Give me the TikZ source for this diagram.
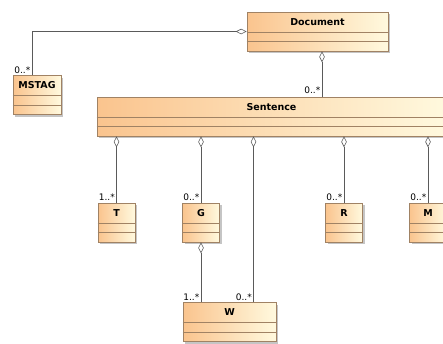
\documentclass[tikz,border=0pt]{standalone}
\usepackage{fontspec}
\setmainfont{DejaVu Sans}
\usetikzlibrary{arrows.meta,shadows,calc}
\definecolor{clsL}{RGB}{250,196,142}
\definecolor{clsR}{RGB}{255,249,222}
\definecolor{clsB}{RGB}{160,130,100}
\definecolor{conn}{RGB}{90,90,90}
\tikzset{
  cls/.style={rectangle, draw=clsB, line width=0.7pt, left color=clsL, right color=clsR,
    inner sep=0pt, minimum height=39pt,
    drop shadow={shadow xshift=2.2pt, shadow yshift=-2.2pt, fill=black!45, opacity=0.5}},
  cmp/.style={draw=clsB, line width=0.6pt},
  ttl/.style={font=\fontsize{9.5}{11}\selectfont\bfseries, inner sep=0pt},
  mult/.style={font=\fontsize{9}{10}\selectfont, inner sep=0.5pt, anchor=south east},
  agg/.style={draw=conn, line width=0.6pt, {Diamond[open,length=11pt,width=5.5pt]}-},
  lnk/.style={draw=conn, line width=0.6pt}
}
\newcommand\umlbox[5]{%
  \node[cls, minimum width=#4] (#1) at (#2,#3) {};
  \draw[cmp] ([yshift=-20.5pt]#1.north west) -- ([yshift=-20.5pt]#1.north east);
  \draw[cmp] ([yshift=-30pt]#1.north west) -- ([yshift=-30pt]#1.north east);
  \node[ttl] (#1-t) at ([yshift=-10pt]#1.north) {#5};
}
\begin{document}
\begin{tikzpicture}[x=1pt,y=-1pt]
\useasboundingbox (0,0) rectangle (443,343);
\umlbox{doc}{317.5}{31.5}{141pt}{Document}
\umlbox{mstag}{37}{95}{48pt}{MSTAG}
\umlbox{sent}{271.5}{116.5}{349pt}{Sentence}
\umlbox{t}{116.5}{222.5}{37pt}{T}
\umlbox{g}{201}{222.5}{37pt}{G}
\umlbox{r}{344}{222.5}{37pt}{R}
\umlbox{m}{428}{222.5}{37pt}{M}
\umlbox{w}{229.5}{322}{93pt}{W}
\coordinate (cA) at (322,0);
\coordinate (cB) at (253.5,0);
% connectors
\draw[agg] (doc.west) -| ([xshift=-5pt]mstag.north);
\draw[agg] (doc.south -| cA) -- (sent.north -| cA);
\draw[agg] (sent.south -| t.north) -- (t.north);
\draw[agg] (sent.south -| g.north) -- (g.north);
\draw[agg] (sent.south -| r.north) -- (r.north);
\draw[agg] (sent.south -| m.north) -- (m.north);
\draw[agg] (sent.south -| cB) -- (w.north -| cB);
\draw[agg] (g.south) -- (w.north -| g.south);
% multiplicities
\node[mult] (lm) at ([xshift=-6pt,yshift=1pt]mstag.north) {0..*};
\node[mult] (ls) at ([xshift=-1pt,yshift=2.5pt]sent.north -| cA) {0..*};
\node[mult] (lt) at ([xshift=-1pt,yshift=1pt]t.north) {1..*};
\node[mult] (lg) at ([xshift=-1pt,yshift=1pt]g.north) {0..*};
\node[mult] (lr) at ([xshift=-1pt,yshift=1pt]r.north) {0..*};
\node[mult] (lmm) at ([xshift=-1pt,yshift=1pt]m.north) {0..*};
\node[mult] (lw1) at ([xshift=-1pt,yshift=1pt]w.north -| g.south) {1..*};
\node[mult] (lw2) at ([xshift=-1pt,yshift=1pt]w.north -| cB) {0..*};
\end{tikzpicture}
\end{document}
